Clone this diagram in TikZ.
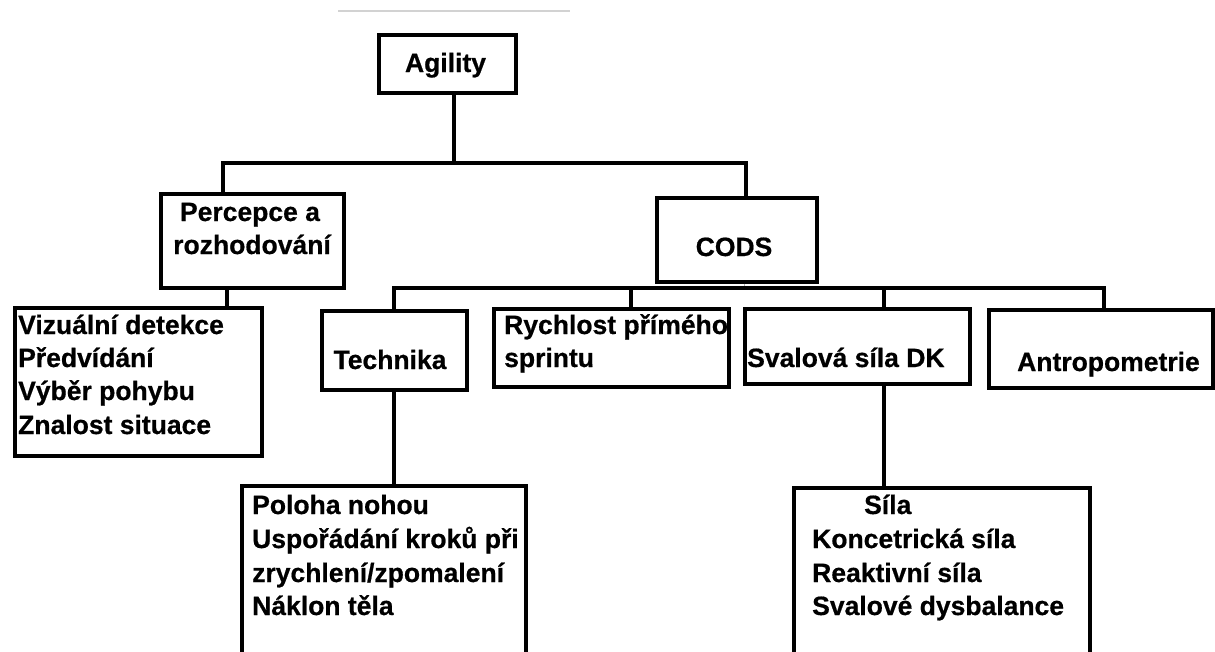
\documentclass[tikz,border=0pt]{standalone}
\usepackage{fontspec}
\setmainfont{Liberation Sans}
\newfontfamily\heavyfont{Liberation Sans Bold}[FakeBold=0.6]
\begin{document}
\begin{tikzpicture}[x=1pt,y=-1pt,
  frame/.style={draw,line width=3.6pt,inner sep=0pt,anchor=north west},
  link/.style={line width=3.6pt,line cap=rect},
  tick/.style={line width=0.8pt,gray!60},
  lbl/.style={inner sep=0pt,font=\fontsize{26.5}{33}\selectfont\heavyfont},
  lw/.style={lbl,anchor=base west},
  lc/.style={lbl,anchor=base}]
\useasboundingbox (0,0) rectangle (1215,651);
\clip (0,0) rectangle (1215,651);
\fill[white] (0,0) rectangle (1215,651);

% thin rule above the chart
\coordinate (ruleL) at (338,11);
\coordinate (ruleR) at (570,11);
\draw[gray!35,line width=1.2pt] (ruleL) -- (ruleR);

% boxes
\node[frame,minimum width=137pt,minimum height=58pt] (agility) at (377,33) {};
\node[frame,minimum width=183pt,minimum height=94pt] (percepce) at (159,192) {};
\node[frame,minimum width=160pt,minimum height=84pt] (cods) at (655,196) {};
\node[frame,minimum width=247pt,minimum height=148pt] (vizualni) at (13,306) {};
\node[frame,minimum width=145pt,minimum height=79pt] (technika) at (320,309) {};
\node[frame,minimum width=235pt,minimum height=78pt] (rychlost) at (492,307) {};
\node[frame,minimum width=225pt,minimum height=75pt] (svalova) at (743,307) {};
\node[frame,minimum width=224pt,minimum height=78pt] (antropo) at (987,308) {};
\node[frame,minimum width=284pt,minimum height=220pt] (poloha) at (240,484) {};
\node[frame,minimum width=296pt,minimum height=220pt] (sila) at (792,486) {};

% bus lines and branch points
\coordinate (busA) at (454,163);
\coordinate (busAL) at (223,163);
\coordinate (busAR) at (746,163);
\coordinate (pv) at (227,300);
\coordinate (busBL) at (394,288);
\coordinate (busBR) at (1104,288);
\coordinate (dropR) at (631,288);
\coordinate (dropS) at (884,288);
\coordinate (codsT) at (744,288);

\draw[link] (agility.south -| busA) -- (busA);
\draw[link] (percepce.north -| busAL) -- (busAL) -- (busAR) -- (cods.north -| busAR);
\draw[link] (percepce.south -| pv) -- (vizualni.north -| pv);
\draw[tick] (cods.south -| codsT) -- (codsT);
\draw[link] (technika.north -| busBL) -- (busBL) -- (busBR) -- (antropo.north -| busBR);
\draw[link] (dropR) -- (rychlost.north -| dropR);
\draw[link] (dropS) -- (svalova.north -| dropS);
\draw[link] (technika.south -| busBL) -- (poloha.north -| busBL);
\draw[link] (svalova.south -| dropS) -- (sila.north -| dropS);

% labels
\node[lc] (tAgility) at (445.5,72) {Agility};
\node[lc] (tPerc1) at (250,221) {Percepce a};
\node[lc] (tPerc2) at (252,254) {rozhodování};
\node[lc] (tCods) at (734,256) {CODS};
\node[lw] (tViz1) at (18,334) {Vizuální detekce};
\node[lw] (tViz2) at (18,367) {Předvídání};
\node[lw] (tViz3) at (18,400) {Výběr pohybu};
\node[lw] (tViz4) at (18,434) {Znalost situace};
\node[lc] (tTech) at (390,369) {Technika};
\node[lw] (tRych1) at (504,334) {Rychlost přímého};
\node[lw] (tRych2) at (504,367) {sprintu};
\node[lw] (tSval) at (747,367) {Svalová síla DK};
\node[lw] (tAntr) at (1017,371) {Antropometrie};
\node[lw] (tPol1) at (252,514) {Poloha nohou};
\node[lw] (tPol2) at (252,548) {Uspořádání kroků při};
\node[lw] (tPol3) at (252,582) {zrychlení/zpomalení};
\node[lw] (tPol4) at (252,615) {Náklon těla};
\node[lw] (tSila1) at (864,514) {Síla};
\node[lw] (tSila2) at (812,548) {Koncetrická síla};
\node[lw] (tSila3) at (812,582) {Reaktivní síla};
\node[lw] (tSila4) at (812,615) {Svalové dysbalance};
\end{tikzpicture}
\end{document}
